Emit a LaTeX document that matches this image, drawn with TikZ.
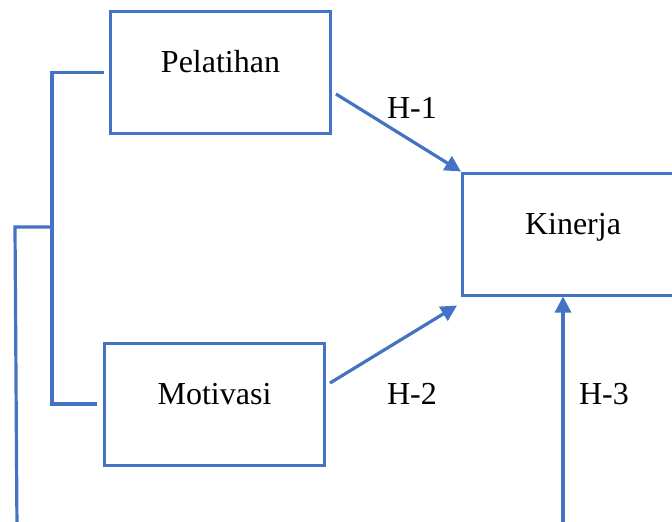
\documentclass[tikz,border=0pt]{standalone}
\usepackage{fontspec}
\setmainfont{Liberation Serif}
\usetikzlibrary{arrows.meta}

\definecolor{wordblue}{HTML}{4472C4}

\tikzset{
  varbox/.style={draw=wordblue, line width=1.5pt, inner sep=0pt,
    minimum width=110pt, minimum height=61pt,
    text height=11pt, text depth=11pt},
  link/.style={draw=wordblue, line width=1.6pt},
  hyp/.style={link, -{Triangle[length=8pt,width=8pt]}},
  hlabel/.style={inner sep=0pt}
}

\begin{document}
\begin{tikzpicture}[x=0.5pt,y=-0.5pt,font=\fontsize{16}{19}\selectfont]
        \clip (0,0) rectangle (672,521);

        % the three variables
        \node[varbox] (pel) at (220.5,72.5) {Pelatihan};
        \node[varbox] (mot) at (214.5,404) {Motivasi};
        \node[varbox, minimum width=110.5pt] (kin) at (573,234) {Kinerja};

        % free ends at the bottom border
        \coordinate (split) at (52,227);
        \coordinate (tailL) at (17,530);
        \coordinate (tailR) at (563,530);

        % bracket joining Pelatihan and Motivasi
        \draw[link] ([xshift=-2.5pt]pel.west) -| (split) |- ([xshift=-3pt]mot.west);
        \draw[link] (split) -- (15,227) -- (tailL);

        % hypotheses
        \draw[hyp] ([xshift=2pt,yshift=-10.75pt]pel.east) -- (kin.north west);
        \draw[hyp] ([xshift=2pt,yshift=10.5pt]mot.east) -- ([xshift=-2pt,yshift=-4.5pt]kin.south west);
        \draw[hyp] (tailR) -- ([xshift=-5pt]kin.south);

        \node[hlabel] (h1) at (412,108) {H-1};
        \node[hlabel] (h2) at (412,394) {H-2};
        \node[hlabel] (h3) at (604,394) {H-3};
      \end{tikzpicture}
\end{document}
